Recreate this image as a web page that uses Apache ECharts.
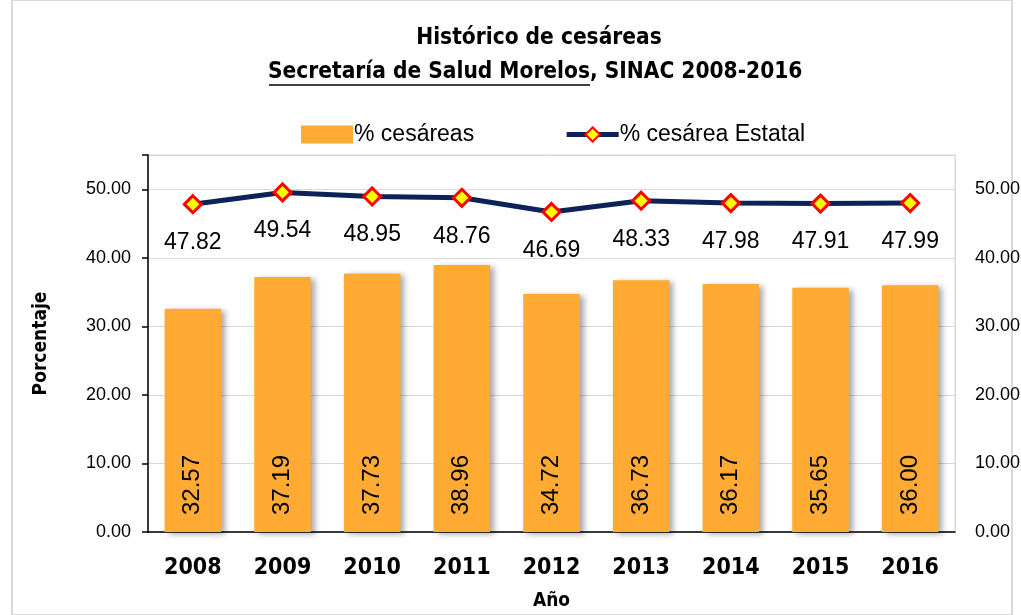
<!DOCTYPE html>
<html>
<head>
<meta charset="utf-8">
<script src="https://cdn.jsdelivr.net/npm/echarts@6/dist/echarts.min.js"></script>
<style>
  html, body { margin: 0; padding: 0; background: #fff; }
  #chart { width: 1021px; height: 615px; }
</style>
</head>
<body>
<div id="chart"></div>
<script>
var years = ['2008', '2009', '2010', '2011', '2012', '2013', '2014', '2015', '2016']
var cesareas = [32.57, 37.19, 37.73, 38.96, 34.72, 36.73, 36.17, 35.65, 36.00]
var estatal = [47.82, 49.54, 48.95, 48.76, 46.69, 48.33, 47.98, 47.91, 47.99]

var narrow = '"DejaVu Sans Condensed", "Liberation Sans Narrow", sans-serif'
var body = '"Liberation Sans", sans-serif'

var chart = echarts.init(document.getElementById('chart'))
var fmt = function (v) { return v >= 55 ? '' : v.toFixed(2) }
var titleFont = { fontFamily: narrow, fontWeight: 'bold', fontSize: 22.5, fill: '#000' }

chart.setOption({
  backgroundColor: '#fff',
  animation: false,
  legend: {
    top: 118,
    left: 296,
    itemGap: 90,
    itemWidth: 52,
    itemHeight: 18,
    textStyle: { fontFamily: body, fontSize: 23, color: '#000', padding: [0, 0, 0, -4] },
    data: [
      { name: '% cesáreas', icon: 'rect' },
      { name: '% cesárea Estatal', lineStyle: { width: 5 } }
    ]
  },
  grid: {
    left: 148, right: 66, top: 155, bottom: 83,
    outerBoundsMode: 'none',
    show: true, borderColor: '#d9d9d9', borderWidth: 1
  },
  xAxis: {
    type: 'category',
    data: years,
    name: 'Año',
    nameLocation: 'middle',
    nameGap: 60,
    nameTextStyle: { fontFamily: narrow, fontWeight: 'bold', fontSize: 19, color: '#000' },
    axisLine: { lineStyle: { color: '#000', width: 1.5 } },
    axisTick: { length: 8, lineStyle: { color: '#000', width: 1.5 } },
    axisLabel: { fontFamily: narrow, fontWeight: 'bold', fontSize: 23, color: '#000', margin: 25 }
  },
  yAxis: [{
    type: 'value',
    min: 0,
    max: 55,
    interval: 10,
    name: 'Porcentaje',
    nameLocation: 'middle',
    nameGap: 97,
    nameTextStyle: { fontFamily: narrow, fontWeight: 'bold', fontSize: 19, color: '#000' },
    axisLine: { show: true, lineStyle: { color: '#000', width: 1.5 } },
    axisTick: { show: true, length: 6, lineStyle: { color: '#000', width: 1.5 } },
    axisLabel: { fontFamily: body, fontSize: 18, color: '#000', margin: 17, formatter: fmt },
    splitLine: { lineStyle: { color: '#d9d9d9', width: 1 } }
  }, {
    type: 'value',
    min: 0,
    max: 55,
    interval: 10,
    position: 'right',
    axisLine: { show: true, lineStyle: { color: '#d9d9e3', width: 1 } },
    axisTick: { show: false },
    axisLabel: { fontFamily: body, fontSize: 18, color: '#000', margin: 20, formatter: fmt },
    splitLine: { show: false }
  }],
  series: [{
    name: '% cesáreas',
    type: 'bar',
    data: cesareas,
    barWidth: '63%',
    itemStyle: {
      color: '#ffab33',
      shadowColor: 'rgba(0,0,0,0.35)',
      shadowBlur: 6,
      shadowOffsetX: 4,
      shadowOffsetY: 2
    },
    label: {
      show: true,
      position: 'insideBottom',
      rotate: 90,
      align: 'left',
      verticalAlign: 'middle',
      distance: 17,
      fontFamily: body,
      fontSize: 24,
      color: '#000',
      formatter: function (p) { return p.value.toFixed(2) }
    }
  }, {
    name: '% cesárea Estatal',
    type: 'line',
    data: estatal,
    yAxisIndex: 1,
    symbol: 'diamond',
    symbolSize: 17,
    lineStyle: { color: '#0d2258', width: 5 },
    itemStyle: { color: '#ffff00', borderColor: '#ff0000', borderWidth: 3 },
    label: {
      show: true,
      position: 'bottom',
      distance: 17,
      fontFamily: body,
      fontSize: 23,
      color: '#000',
      formatter: function (p) { return p.value.toFixed(2) }
    },
    z: 5
  }],
  graphic: [{
    type: 'text',
    x: 539,
    y: 38,
    style: Object.assign({ text: 'Histórico de cesáreas', align: 'center', verticalAlign: 'middle' }, titleFont)
  }, {
    type: 'text',
    x: 590,
    y: 72,
    style: Object.assign({ text: 'Secretaría de Salud Morelos', align: 'right', verticalAlign: 'middle' }, titleFont)
  }, {
    type: 'text',
    x: 590,
    y: 72,
    style: Object.assign({ text: ', SINAC 2008-2016', align: 'left', verticalAlign: 'middle' }, titleFont)
  }, {
    type: 'line',
    shape: { x1: 269, y1: 85, x2: 590, y2: 85 },
    style: { stroke: '#000', lineWidth: 1.5 }
  }, {
    type: 'rect',
    shape: { x: 12, y: 0, width: 1000, height: 615 },
    style: { fill: 'none', stroke: '#d9d9d9', lineWidth: 2 },
    silent: true
  }]
})
</script>
</body>
</html>
